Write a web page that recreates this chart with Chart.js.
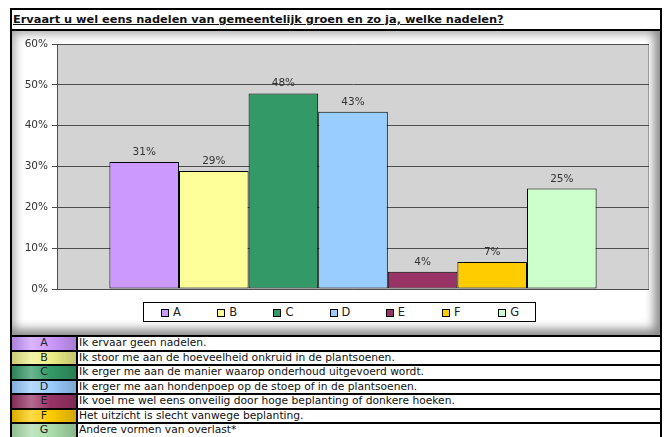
<!DOCTYPE html>
<html>
<head>
<meta charset="utf-8">
<script src="https://cdn.jsdelivr.net/npm/chart.js@4.4.0/dist/chart.umd.min.js"></script>
<style>
  html, body { margin: 0; padding: 0; background: #fff; width: 667px; height: 437px; overflow: hidden; font-family: "DejaVu Sans", Verdana, sans-serif; }
  #frame { position: absolute; left: 10px; top: 8px; width: 652px; height: 440px; box-sizing: border-box; border: 2px solid #000; border-bottom: none; }
  #title { height: 19px; border-bottom: 2px solid #000; font-weight: bold; font-size: 11.35px; line-height: 19px; text-decoration: underline; padding-left: 1px; white-space: nowrap; color: #111; }
  #panel { position: relative; height: 304px; background: #fff; box-shadow: inset -9px -9px 10px -3px #8c8c8c, inset 6px 6px 10px -3px #a8a8a8; }
  #chart { position: absolute; left: 0; top: 0; }
  #legend { position: absolute; left: 131px; top: 271px; width: 393px; height: 20px; box-sizing: border-box; border: 1px solid #000; background: #fff; font-size: 11.5px; line-height: 18px; color: #222; }
  #legend .item { position: absolute; top: 0; }
  #legend .box { display: inline-block; width: 6px; height: 6px; border: 1px solid #000; margin-right: 4px; vertical-align: -1px; }
  .row { display: flex; height: 12.5px; border-top: 2px solid #000; }
  .key { width: 64px; flex: none; border-right: 2px solid #000; text-align: center; font-size: 11px; line-height: 12.5px; color: #222; }
  .txt { padding-left: 1px; font-size: 10.7px; line-height: 12.5px; white-space: nowrap; color: #111; }
</style>
</head>
<body>
<div id="frame">
  <div id="title">Ervaart u wel eens nadelen van gemeentelijk groen en zo ja, welke nadelen?</div>
  <div id="panel">
    <canvas id="chart" width="648" height="304"></canvas>
    <div id="legend"></div>
  </div>
  <div id="table"></div>
</div>
<script>
const seriesNames = ['A', 'B', 'C', 'D', 'E', 'F', 'G'];
const values = [31.1, 28.9, 47.9, 43.4, 4.2, 6.6, 24.6];
const colors = ['#CC99FF', '#FFFF99', '#339966', '#99CCFF', '#993366', '#FFCC00', '#CCFFCC'];
const yTicks = ['0%', '10%', '20%', '30%', '40%', '50%', '60%'];
const descriptions = [
  'Ik ervaar geen nadelen.',
  'Ik stoor me aan de hoeveelheid onkruid in de plantsoenen.',
  'Ik erger me aan de manier waarop onderhoud uitgevoerd wordt.',
  'Ik erger me aan hondenpoep op de stoep of in de plantsoenen.',
  'Ik voel me wel eens onveilig door hoge beplanting of donkere hoeken.',
  'Het uitzicht is slecht vanwege beplanting.',
  'Andere vormen van overlast*'
];
const keyColors = ['#CC99FF', '#EEEE88', '#339966', '#99CCFF', '#993366', '#FFCC00', '#AADDAA'];

// grey plot background with thin border
const plotBg = {
  id: 'plotBg',
  beforeDraw(chart) {
    const { ctx, chartArea: a } = chart;
    ctx.save();
    ctx.fillStyle = '#d3d3d3';
    ctx.fillRect(a.left, a.top, a.width, a.height);
    ctx.strokeStyle = '#9a9a9a';
    ctx.lineWidth = 1;
    ctx.strokeRect(a.left + 0.5, a.top + 0.5, a.width - 1, a.height);
    ctx.restore();
  }
};

// percentage above each bar
const valueLabels = {
  id: 'valueLabels',
  afterDatasetsDraw(chart) {
    const ctx = chart.ctx;
    ctx.save();
    ctx.font = '10.5px "DejaVu Sans"';
    ctx.fillStyle = '#333';
    ctx.textAlign = 'center';
    chart.data.datasets.forEach((ds, i) => {
      const bar = chart.getDatasetMeta(i).data[0];
      ctx.fillText(Math.round(ds.data[0]) + '%', bar.x, bar.y - 7);
    });
    ctx.restore();
  }
};

new Chart(document.getElementById('chart'), {
  type: 'bar',
  data: {
    labels: [''],
    datasets: seriesNames.map((name, i) => ({
      label: name,
      data: [values[i]],
      backgroundColor: colors[i],
      borderColor: '#000',
      borderWidth: 1,
      borderSkipped: false,
      categoryPercentage: 0.823,
      barPercentage: 1
    }))
  },
  options: {
    responsive: false,
    animation: false,
    devicePixelRatio: 1,
    layout: { padding: { left: 0, right: 11, top: 13, bottom: 46 } },
    plugins: { legend: { display: false }, tooltip: { enabled: false } },
    scales: {
      x: { display: false },
      y: {
        min: 0,
        max: 60,
        ticks: {
          stepSize: 10,
          padding: 4,
          color: '#333',
          font: { family: 'DejaVu Sans', size: 10.5 },
          callback: (v, i) => yTicks[i]
        },
        grid: { color: '#4d4d4d', tickLength: 5 },
        border: { color: '#4d4d4d' },
        afterFit: (scale) => { scale.width = 45; }
      }
    }
  },
  plugins: [plotBg, valueLabels]
});

// legend strip
const legend = document.getElementById('legend');
seriesNames.forEach((name, i) => {
  const item = document.createElement('div');
  item.className = 'item';
  item.style.left = (17 + i * 56.2) + 'px';
  item.innerHTML = '<span class="box" style="background:' + colors[i] + '"></span>' + name;
  legend.appendChild(item);
});

// key table below the chart
const table = document.getElementById('table');
seriesNames.forEach((name, i) => {
  const row = document.createElement('div');
  row.className = 'row';
  row.innerHTML = '<div class="key" style="background:linear-gradient(to right, rgba(0,0,0,.15), rgba(255,255,255,.28) 30%, rgba(255,255,255,0) 60%, rgba(0,0,0,.18)), ' + keyColors[i] + '">' + name + '</div>' +
    '<div class="txt">' + descriptions[i] + '</div>';
  table.appendChild(row);
});
</script>
</body>
</html>
